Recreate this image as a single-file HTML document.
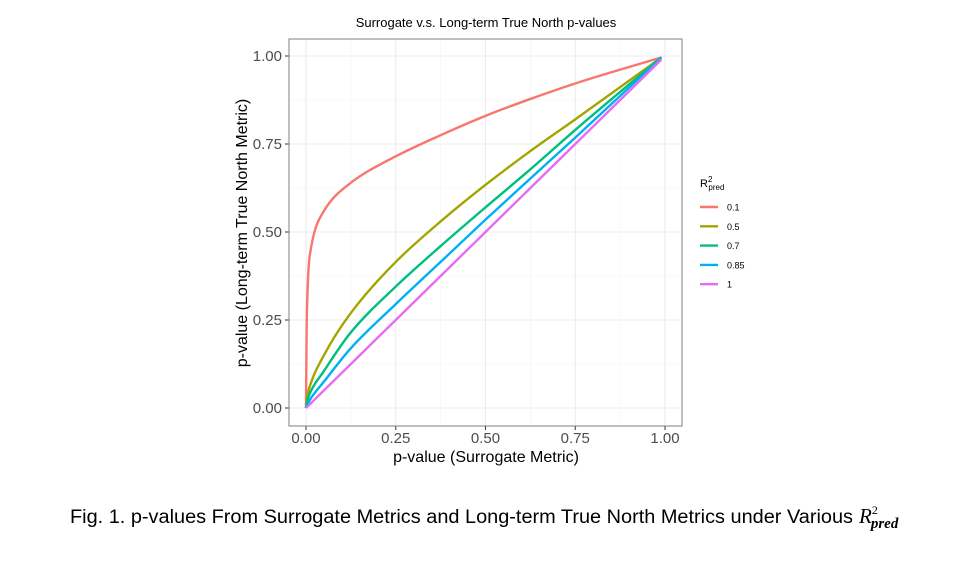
<!DOCTYPE html>
<html><head><meta charset="utf-8"><style>
body{margin:0;background:#fff;width:958px;height:560px;overflow:hidden;font-family:"Liberation Sans",sans-serif}
</style></head><body>
<svg width="958" height="560" xmlns="http://www.w3.org/2000/svg">
<g id="plot"></g>
<text x="70" y="523" font-size="19" textLength="783" lengthAdjust="spacingAndGlyphs" font-family="Liberation Sans, sans-serif" fill="#000">Fig. 1.  p-values From Surrogate Metrics and Long-term True North Metrics under Various</text>
<text x="859" y="523" font-family="Liberation Serif, serif" fill="#000"><tspan font-size="21" font-style="italic">R</tspan><tspan font-size="12" dy="-9">2</tspan><tspan font-size="15" dx="-7" dy="14" font-style="italic" font-weight="bold">pred</tspan></text>
</svg>
<script>
const pX = [0,0.002,0.01,0.05,0.125,0.25,0.375,0.5,0.625,0.75,0.99];
const series = ["0.1","0.5","0.7","0.85","1"];
const colors = ["#F8766D","#A3A500","#00BF7D","#00B0F6","#E76BF3"];
const yRed = [0,0.25,0.43,0.56,0.64,0.715,0.775,0.83,0.878,0.922,0.996];
const yOlive = [0,0.025,0.06,0.15,0.27,0.415,0.53,0.634,0.73,0.82,0.996];
const yGreen = [0,0.012,0.04,0.105,0.215,0.345,0.46,0.57,0.678,0.79,0.996];
const yBlue = [0,0.006,0.022,0.075,0.17,0.295,0.415,0.535,0.652,0.768,0.996];
const yMag = [0,0.002,0.01,0.05,0.125,0.25,0.375,0.5,0.625,0.75,0.99];
const allY = [yRed,yOlive,yGreen,yBlue,yMag];
const ticks = [0,0.25,0.5,0.75,1];
const tickLabels = ["0.00","0.25","0.50","0.75","1.00"];

const NS="http://www.w3.org/2000/svg";
const g=document.getElementById('plot');
const L=289,R=682,T=39,B=426;
const sx=v=>306+v*(665-306);
const sy=v=>408-v*(408-56);
function mk(tag,attrs,parent){const e=document.createElementNS(NS,tag);for(const k in attrs)e.setAttribute(k,attrs[k]);(parent||g).appendChild(e);return e;}
function monoPath(xs,ys){
 const n=xs.length,d=[],m=new Array(n);
 for(let i=0;i<n-1;i++)d.push((ys[i+1]-ys[i])/(xs[i+1]-xs[i]));
 m[0]=d[0];m[n-1]=d[n-2];
 for(let i=1;i<n-1;i++){if(d[i-1]*d[i]<=0){m[i]=0;}else{const w1=2*(xs[i+1]-xs[i])+(xs[i]-xs[i-1]),w2=(xs[i+1]-xs[i])+2*(xs[i]-xs[i-1]);m[i]=(w1+w2)/(w1/d[i-1]+w2/d[i]);}}
 let p='M'+xs[0].toFixed(2)+','+ys[0].toFixed(2);
 for(let i=0;i<n-1;i++){const h=(xs[i+1]-xs[i])/3;
  p+='C'+(xs[i]+h).toFixed(2)+','+(ys[i]+m[i]*h).toFixed(2)+' '+(xs[i+1]-h).toFixed(2)+','+(ys[i+1]-m[i+1]*h).toFixed(2)+' '+xs[i+1].toFixed(2)+','+ys[i+1].toFixed(2);}
 return p;}
let bg=mk('rect',{x:L,y:T,width:R-L,height:B-T,fill:'#fff'});


for(let i=0;i<ticks.length-1;i++){const m=(ticks[i]+ticks[i+1])/2;
 let a=mk('line',{x1:sx(m),x2:sx(m),y1:T,y2:B,stroke:'#f2f2f2','stroke-width':0.6});
 
 
 let b=mk('line',{x1:L,x2:R,y1:sy(m),y2:sy(m),stroke:'#f2f2f2','stroke-width':0.6});
 
 }
ticks.forEach((t,i)=>{
 let a=mk('line',{x1:sx(t),x2:sx(t),y1:T,y2:B,stroke:'#ebebeb','stroke-width':1.1});
 
 
 let b=mk('line',{x1:L,x2:R,y1:sy(t),y2:sy(t),stroke:'#ebebeb','stroke-width':1.1});
 
 
 let tx=mk('line',{x1:sx(t),x2:sx(t),y1:B,y2:B+4,stroke:'#333','stroke-width':1});
 
 
 let ty=mk('line',{x1:L-4,x2:L,y1:sy(t),y2:sy(t),stroke:'#333','stroke-width':1});
 
 
 let lx=mk('text',{x:sx(t),y:B+17,'text-anchor':'middle','font-size':15,fill:'#4d4d4d'});lx.textContent=tickLabels[i];
 
 
 let ly=mk('text',{x:L-7,y:sy(t)+5,'text-anchor':'end','font-size':15,fill:'#4d4d4d'});ly.textContent=tickLabels[i];
 
 
});
allY.forEach((ys,si)=>{
 const d=monoPath(pX.map(sx),ys.map(sy));
 let p=mk('path',{d:d,fill:'none',stroke:colors[si],'stroke-width':2.4,'stroke-linejoin':'round'});
 
 
});
let br=mk('rect',{x:L,y:T,width:R-L,height:B-T,fill:'none',stroke:'#7f7f7f','stroke-width':1});


let title=mk('text',{x:486,y:27,'text-anchor':'middle','font-size':13,fill:'#000'});title.textContent='Surrogate v.s. Long-term True North p-values';


let xt=mk('text',{x:486,y:462,'text-anchor':'middle','font-size':16,fill:'#000'});xt.textContent='p-value (Surrogate Metric)';


let yt=mk('text',{x:0,y:0,'text-anchor':'middle','font-size':16,fill:'#000',transform:'translate(247,233) rotate(-90)'});yt.textContent='p-value (Long-term True North Metric)';


let lt=mk('text',{x:700,y:187,'font-size':11,fill:'#000'});lt.innerHTML='R<tspan font-size="8" dy="-5">2</tspan><tspan font-size="8" dx="-4" dy="8">pred</tspan>';


series.forEach((s,i)=>{const y=207+i*19.3;
 let ln=mk('line',{x1:700,x2:718,y1:y,y2:y,stroke:colors[i],'stroke-width':2.4});
 
 
 let lb=mk('text',{x:727,y:y+3.5,'font-size':9,fill:'#000'});lb.textContent=s;
 
 
});
</script>
</body></html>
